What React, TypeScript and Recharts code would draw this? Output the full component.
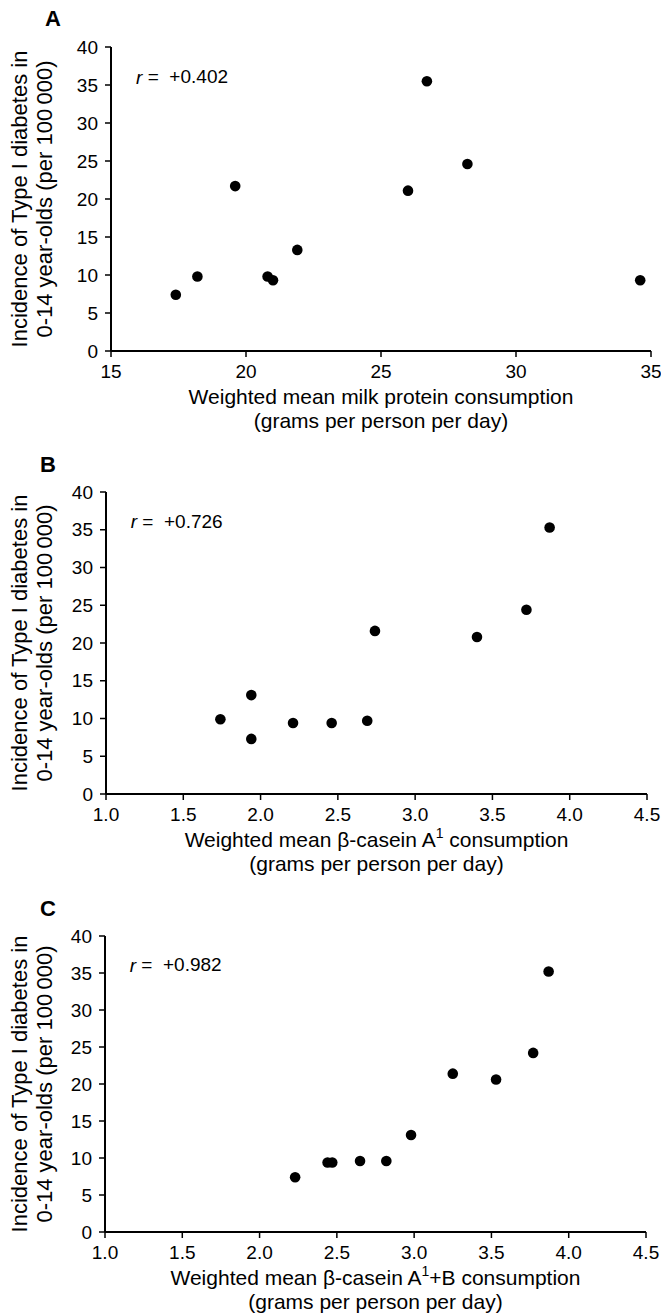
import React from 'react';
import { ScatterChart, Scatter, XAxis, YAxis, ReferenceDot } from 'recharts';

// Panel A: milk protein vs incidence
const milkProtein = [17.4, 18.2, 19.6, 20.8, 21.0, 21.9, 26.0, 26.7, 28.2, 34.6];
const milkIncidence = [7.4, 9.8, 21.7, 9.8, 9.3, 13.3, 21.1, 35.5, 24.6, 9.3];

// Panel B: beta-casein A1
const caseinA1 = [1.74, 1.94, 1.94, 2.21, 2.46, 2.69, 2.74, 3.4, 3.72, 3.87];
const caseinA1Incidence = [9.9, 13.1, 7.3, 9.4, 9.4, 9.7, 21.6, 20.8, 24.4, 35.3];

// Panel C: beta-casein A1 + B
const caseinA1B = [2.23, 2.44, 2.47, 2.65, 2.82, 2.98, 3.25, 3.53, 3.77, 3.87];
const caseinA1BIncidence = [7.4, 9.4, 9.4, 9.6, 9.6, 13.1, 21.4, 20.6, 24.2, 35.2];

const incidenceTicks = [0, 5, 10, 15, 20, 25, 30, 35, 40];
const milkTicks = [15, 20, 25, 30, 35];
const caseinTicks = [1.0, 1.5, 2.0, 2.5, 3.0, 3.5, 4.0, 4.5];

const FONT = "'Liberation Sans', Arial, Helvetica, sans-serif";

interface PanelProps {
  letter: string;
  xs: number[];
  ys: number[];
  xTicks: number[];
  decimals: number;
  rText: string;
  rAt: [number, number];
  xTitle: React.ReactNode;
  top: number;
  height: number;
  margin: { top: number; right: number; bottom: number; left: number };
  yAxisWidth: number;
  xAxisHeight: number;
  letterPos: [number, number];
}

const renderYTitle = (props: any) => {
  const { x, y, height } = props.viewBox;
  const cy = y + height / 2;
  const l1 = x + 27;
  const l2 = x + 52;
  return (
    <g fontFamily={FONT} fontSize={22} fill="#000">
      <text x={l1} y={cy} textAnchor="middle" transform={`rotate(-90 ${l1} ${cy})`}>
        Incidence of Type I diabetes in
      </text>
      <text x={l2} y={cy} textAnchor="middle" transform={`rotate(-90 ${l2} ${cy})`}>
        0-14 year-olds (per 100{'\u2009'}000)
      </text>
    </g>
  );
};

const makeXTitle = (line1: React.ReactNode) => (props: any) => {
  const { x, y, width } = props.viewBox;
  const cx = x + width / 2;
  return (
    <g fontFamily={FONT} fontSize={21} fill="#000">
      <text x={cx} y={y + 53} textAnchor="middle">{line1}</text>
      <text x={cx} y={y + 77} textAnchor="middle">(grams per person per day)</text>
    </g>
  );
};

const Panel: React.FC<PanelProps> = ({
  letter, xs, ys, xTicks, decimals, rText, rAt, xTitle,
  top, height, margin, yAxisWidth, xAxisHeight, letterPos,
}) => {
  const data = xs.map((x, i) => ({ x, y: ys[i] }));
  return (
    <div style={{ position: 'absolute', left: 0, top, width: 661, height }}>
      <div
        style={{
          position: 'absolute', left: letterPos[0], top: letterPos[1],
          fontFamily: FONT, fontWeight: 'bold', fontSize: 22, lineHeight: '22px', color: '#000',
        }}
      >
        {letter}
      </div>
      <ScatterChart width={661} height={height} margin={margin}>
        <XAxis
          type="number"
          dataKey="x"
          domain={[xTicks[0], xTicks[xTicks.length - 1]]}
          ticks={xTicks}
          interval={0}
          height={xAxisHeight}
          tickFormatter={(v: number) => v.toFixed(decimals)}
          tick={{ fill: '#000', fontSize: 19, fontFamily: FONT }}
          tickSize={6}
          tickMargin={8}
          axisLine={{ stroke: '#000', strokeWidth: 2 }}
          tickLine={{ stroke: '#000', strokeWidth: 1.5 }}
          label={makeXTitle(xTitle)}
        />
        <YAxis
          type="number"
          dataKey="y"
          domain={[0, 40]}
          ticks={incidenceTicks}
          interval={0}
          width={yAxisWidth}
          tick={{ fill: '#000', fontSize: 19, fontFamily: FONT }}
          tickSize={6}
          tickMargin={7}
          axisLine={{ stroke: '#000', strokeWidth: 2 }}
          tickLine={{ stroke: '#000', strokeWidth: 1.5 }}
          label={renderYTitle}
        />
        <ReferenceDot
          x={rAt[0]}
          y={rAt[1]}
          r={0}
          fill="none"
          stroke="none"
          label={(p: any) => (
            <text
              x={p.viewBox.x}
              y={p.viewBox.y}
              dominantBaseline="central"
              fontFamily={FONT}
              fontSize={19}
              fill="#000"
            >
              <tspan fontStyle="italic">r</tspan>
              {' = \u00a0' + rText}
            </text>
          )}
        />
        <Scatter
          data={data}
          isAnimationActive={false}
          shape={(p: any) => <circle cx={p.cx} cy={p.cy} r={5.3} fill="#000" />}
        />
      </ScatterChart>
    </div>
  );
};

const App: React.FC = () => {
  return (
    <div style={{ position: 'absolute', left: 0, top: 0, width: 661, height: 1313, background: '#fff' }}>
      <Panel
        letter="A"
        xs={milkProtein}
        ys={milkIncidence}
        xTicks={milkTicks}
        decimals={0}
        rText="+0.402"
        rAt={[15.93, 36.1]}
        xTitle="Weighted mean milk protein consumption"
        top={0}
        height={440}
        margin={{ top: 47, right: 10, bottom: 0, left: 0 }}
        yAxisWidth={111}
        xAxisHeight={89}
        letterPos={[45, 8]}
      />
      <Panel
        letter="B"
        xs={caseinA1}
        ys={caseinA1Incidence}
        xTicks={caseinTicks}
        decimals={1}
        rText="+0.726"
        rAt={[1.16, 36.1]}
        xTitle={
          <>
            Weighted mean β-casein A
            <tspan fontSize={14} dy={-9}>1</tspan>
            <tspan dy={9}> consumption</tspan>
          </>
        }
        top={440}
        height={440}
        margin={{ top: 52, right: 14, bottom: 0, left: 0 }}
        yAxisWidth={106}
        xAxisHeight={86}
        letterPos={[40, 14]}
      />
      <Panel
        letter="C"
        xs={caseinA1B}
        ys={caseinA1BIncidence}
        xTicks={caseinTicks}
        decimals={1}
        rText="+0.982"
        rAt={[1.16, 36.1]}
        xTitle={
          <>
            Weighted mean β-casein A
            <tspan fontSize={14} dy={-9}>1</tspan>
            <tspan dy={9}>+B consumption</tspan>
          </>
        }
        top={880}
        height={433}
        margin={{ top: 56, right: 15, bottom: 0, left: 0 }}
        yAxisWidth={105}
        xAxisHeight={81}
        letterPos={[40, 18]}
      />
    </div>
  );
};

export default App;
